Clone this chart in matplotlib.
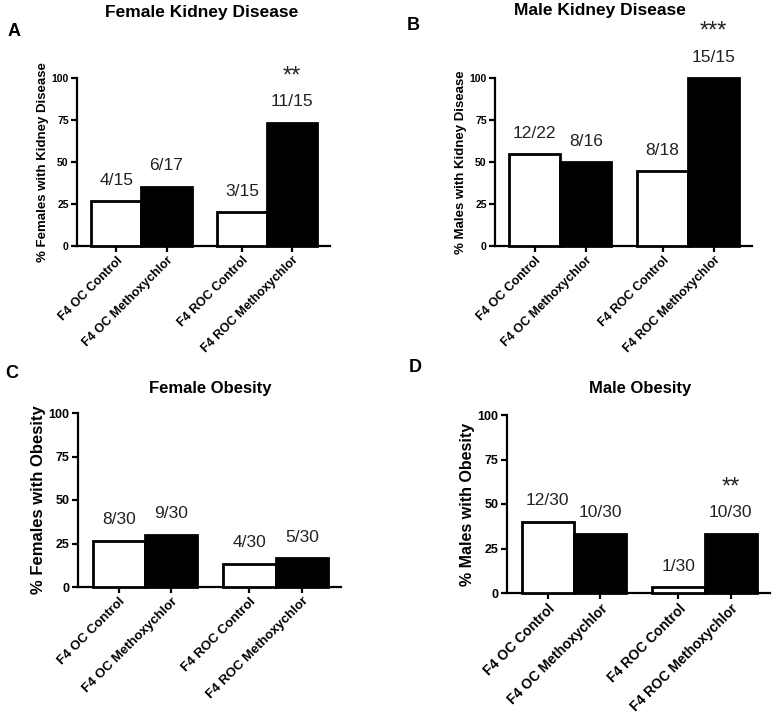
import matplotlib
matplotlib.use("Agg")
import matplotlib.pyplot as plt

plt.rcParams['font.family'] = ['Liberation Sans', 'DejaVu Sans']

groups = ["F4 OC Control", "F4 OC Methoxychlor", "F4 ROC Control", "F4 ROC Methoxychlor"]

# affected / total for each group
fem_kidney_n = [4, 6, 3, 11]
fem_kidney_tot = [15, 17, 15, 15]
male_kidney_n = [12, 8, 8, 15]
male_kidney_tot = [22, 16, 18, 15]
fem_obesity_n = [8, 9, 4, 5]
fem_obesity_tot = [30, 30, 30, 30]
male_obesity_n = [12, 10, 1, 10]
male_obesity_tot = [30, 30, 30, 30]

# significance marks (group index -> stars)
fem_kidney_sig = {3: "**"}
male_kidney_sig = {3: "***"}
fem_obesity_sig = {}
male_obesity_sig = {3: "**"}

W, H = 779, 715
fig = plt.figure(figsize=(W / 100, H / 100), dpi=100)

def px_axes(left, top, right, bottom):
    return fig.add_axes([left / W, 1 - bottom / H, (right - left) / W, (bottom - top) / H])

def panel(ax, n, tot, sig, ylabel, tick_fs, ylab_fs, xtick_fs):
    pos = [0, 1, 2.5, 3.5]
    vals = [100.0 * a / b for a, b in zip(n, tot)]
    colors = ["white", "black", "white", "black"]
    ax.bar(pos, vals, width=1.0, color=colors, edgecolor="black", linewidth=2, clip_on=False, zorder=3)
    for p, v, a, b in zip(pos, vals, n, tot):
        ax.annotate(f"{a}/{b}", (p, v), xytext=(0, 21), textcoords="offset pixels",
                    ha="center", va="center", fontsize=12.5, color="#222222")
    for i, s in sig.items():
        ax.annotate(s, (pos[i], vals[i]), xytext=(0, 46), textcoords="offset pixels",
                    ha="center", va="center", fontsize=17, color="#222222")
    ax.set_xlim(-0.78, 4.25)
    ax.set_ylim(0, 100)
    ax.set_yticks([0, 25, 50, 75, 100])
    ax.set_xticks(pos)
    ax.set_xticklabels(groups, rotation=45, ha="right", rotation_mode="anchor",
                       fontsize=xtick_fs, fontweight="bold")
    for lab in ax.get_yticklabels():
        lab.set_fontsize(tick_fs)
        lab.set_fontweight("bold")
    ax.spines["top"].set_visible(False)
    ax.spines["right"].set_visible(False)
    ax.spines["left"].set_linewidth(1.6)
    ax.spines["bottom"].set_linewidth(1.6)
    ax.tick_params(axis="both", length=4, width=1.6, pad=2)
    ax.set_ylabel(ylabel, fontsize=ylab_fs, fontweight="bold", labelpad=2)
    ax.patch.set_visible(False)

axA = px_axes(77, 78, 330, 246)
panel(axA, fem_kidney_n, fem_kidney_tot, fem_kidney_sig, "% Females with Kidney Disease", 7.5, 9.5, 9)
axB = px_axes(495, 78, 752, 246)
panel(axB, male_kidney_n, male_kidney_tot, male_kidney_sig, "% Males with Kidney Disease", 7.5, 9.5, 9)
axC = px_axes(78, 413, 341, 587)
panel(axC, fem_obesity_n, fem_obesity_tot, fem_obesity_sig, "% Females with Obesity", 9, 12, 9.5)
axD = px_axes(507, 415, 770, 593)
panel(axD, male_obesity_n, male_obesity_tot, male_obesity_sig, "% Males with Obesity", 9, 11.5, 10)

def ftext(x, y, s, **kw):
    fig.text(x / W, 1 - y / H, s, ha="center", va="center", fontweight="bold", **kw)

ftext(202, 12, "Female Kidney Disease", fontsize=12.5)
ftext(600, 11, "Male Kidney Disease", fontsize=12.5)
ftext(210, 388, "Female Obesity", fontsize=12)
ftext(640, 389, "Male Obesity", fontsize=12)
ftext(14, 31, "A", fontsize=13)
ftext(413, 25, "B", fontsize=13)
ftext(12, 373, "C", fontsize=13)
ftext(415, 368, "D", fontsize=13)

fig.savefig("out.png", dpi=100, facecolor="white")
